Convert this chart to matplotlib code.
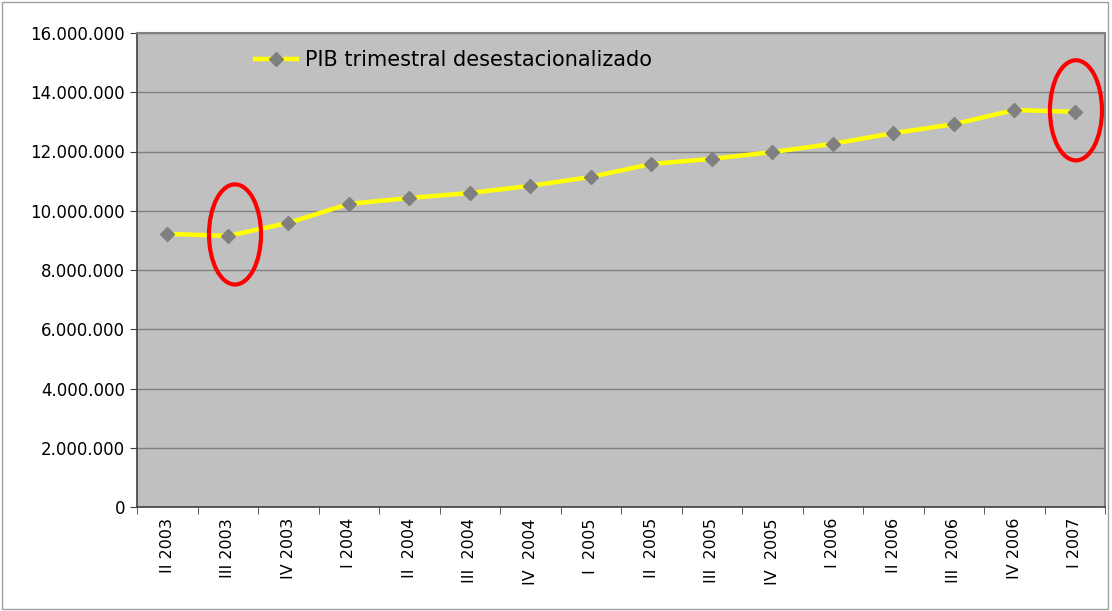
import numpy as np
import matplotlib.pyplot as plt
from matplotlib.patches import Ellipse
from matplotlib.ticker import FuncFormatter

# Dados
trimestres = ['II 2003', 'III 2003', 'IV 2003', 'I 2004', 'II  2004', 'III  2004',
              'IV  2004', 'I  2005', 'II  2005', 'III  2005', 'IV  2005', 'I 2006',
              'II 2006', 'III  2006', 'IV 2006', 'I 2007']
pib = [9.22e6, 9.15e6, 9.59e6, 10.23e6, 10.43e6, 10.60e6, 10.84e6, 11.14e6,
       11.58e6, 11.75e6, 11.98e6, 12.26e6, 12.62e6, 12.92e6, 13.40e6, 13.34e6]
destaques = [1, 15]  # pontos circulados

fig = plt.figure(figsize=(11.12, 6.11), dpi=100)
ax = fig.add_axes([137 / 1112, 1 - 507 / 611, 968 / 1112, 474 / 611])
ax.set_facecolor('#c0c0c0')

x = np.arange(len(pib))
ax.plot(x, pib, color='#ffff00', linewidth=3.2, marker='D', markersize=7,
        markerfacecolor='#808080', markeredgecolor='#808080',
        label='PIB trimestral desestacionalizado', zorder=3)

# Elipses vermelhas
for i in destaques:
    ax.add_patch(Ellipse((i + 0.12 if i == 1 else i + 0.02, pib[i] + 0.05e6), 0.86, 3.38e6,
                         fill=False, edgecolor='red', linewidth=3, zorder=4))

ax.set_xlim(-0.5, len(pib) - 0.5)
ax.set_ylim(0, 16e6)
ax.set_yticks(np.arange(0, 16.1e6, 2e6))
ax.yaxis.set_major_formatter(FuncFormatter(lambda v, p: f'{int(v):,}'.replace(',', '.')))
ax.grid(axis='y', color='#808080', linewidth=1)
ax.set_axisbelow(True)

ax.set_xticks(x)
ax.set_xticklabels(trimestres, rotation=90, va='top', ha='center')
ax.set_xticks(np.arange(-0.5, len(pib), 1), minor=True)
ax.tick_params(axis='x', which='major', length=0, pad=8, labelsize=11.5)
ax.tick_params(axis='x', which='minor', length=5, color='#404040')
ax.tick_params(axis='y', length=5, color='#404040', labelsize=12)

for s in ['left', 'bottom']:
    ax.spines[s].set_color('#404040')
    ax.spines[s].set_linewidth(1.2)
for s in ['top', 'right']:
    ax.spines[s].set_color('#808080')
    ax.spines[s].set_linewidth(1.5)

leg = ax.legend(loc='center left', bbox_to_anchor=(0.122, 0.943), frameon=False,
                fontsize=15, handlelength=2.0, handletextpad=0.4,
                borderaxespad=0, borderpad=0)

# Moldura externa
fig.patches.append(plt.Rectangle((0.002, 0.003), 0.994, 0.994, transform=fig.transFigure,
                                 fill=False, edgecolor='#a0a0a0', linewidth=1))

fig.savefig('out.png', dpi=100)
